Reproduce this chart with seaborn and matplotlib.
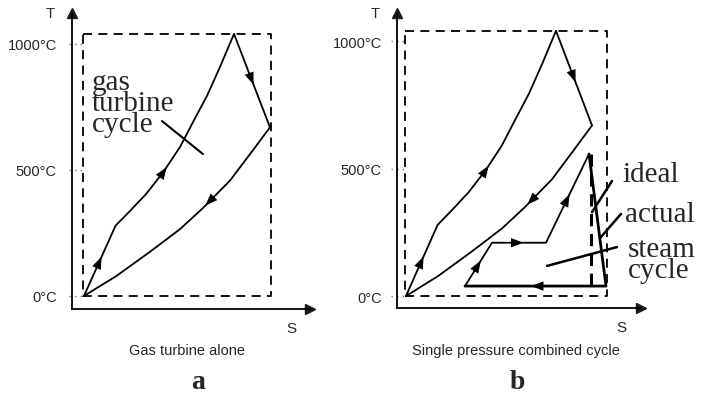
import numpy as np
import pandas as pd
import matplotlib
matplotlib.use("Agg")
import matplotlib.pyplot as plt
import seaborn as sns

# Gas turbine (Brayton) cycle, S in arbitrary units, T in degC
gas_up_s = [0.0, 1.58, 2.3, 3.13, 3.97, 4.8, 5.45, 6.15, 6.8, 7.5]
gas_up_t = [0, 279, 337, 407, 492, 591, 690, 794, 909, 1040]
turb_s = [7.5, 9.3]
turb_t = [1040, 669]
gas_down_s = [9.3, 8.35, 7.3, 5.95, 4.8, 3.28, 1.6, 0.0]
gas_down_t = [669, 568, 458, 349, 265, 174, 78, 0]

# Steam (Rankine) cycle of panel b
steam_s = [2.95, 4.3, 7.0, 9.15]
steam_t = [39, 209, 209, 557]
actual_s = [9.15, 10.0, 2.95]
actual_t = [557, 39, 39]
ideal_s = [9.25, 9.25]
ideal_t = [557, 39]

box_right = {"a": 9.35, "b": 10.05}
t_ticks = [0, 500, 1000]
t_labels = ["0°C", "500°C", "1000°C"]

sns.set_theme(style="white")
plt.rcParams["font.family"] = ["Liberation Sans", "DejaVu Sans"]

fig = plt.figure(figsize=(7.08, 4.06), dpi=100)
ax_a = fig.add_axes([72 / 708, 96 / 406, 238 / 708, 296 / 406])
ax_b = fig.add_axes([397 / 708, 97 / 406, 244 / 708, 295 / 406])
ax_a.set_xlim(-0.6, 11.3)
ax_a.set_ylim(-52, 1123)
ax_b.set_xlim(-0.45, 11.75)
ax_b.set_ylim(-47, 1110)


def line(ax, s, t, lw=1.3, ls="-"):
    df = pd.DataFrame({"S": s, "T": t})
    sns.lineplot(data=df, x="S", y="T", sort=False, estimator=None,
                 color="black", lw=lw, ls=ls, ax=ax)


def arrow(ax, s, t, i, f=0.5, size=9):
    # arrowhead on segment i of a path, pointing along the path
    p0 = ax.transData.transform((s[i], t[i]))
    p1 = ax.transData.transform((s[i + 1], t[i + 1]))
    d = (p1 - p0) / np.hypot(*(p1 - p0))
    mid = p0 + f * (p1 - p0)
    inv = ax.transData.inverted()
    tail = inv.transform(mid - d * size / 2)
    tip = inv.transform(mid + d * size / 2)
    ax.annotate("", xy=tip, xytext=tail,
                arrowprops=dict(arrowstyle="-|>,head_length=0.75,head_width=0.28",
                                color="black", lw=0, mutation_scale=12,
                                shrinkA=0, shrinkB=0))


def frame(ax, name):
    for side in ["top", "right"]:
        ax.spines[side].set_visible(False)
    for side in ["left", "bottom"]:
        ax.spines[side].set_color("black")
        ax.spines[side].set_linewidth(1.3)
    ax.plot(1, 0, ">k", ms=7, transform=ax.transAxes, clip_on=False)
    ax.plot(0, 1, "^k", ms=7, transform=ax.transAxes, clip_on=False)
    ax.set_xticks([])
    ax.set_yticks(t_ticks)
    ax.set_yticklabels(t_labels, fontsize=10.5)
    ax.tick_params(axis="y", length=0, pad=11)
    ax.text(-0.09, 1.0, "T", transform=ax.transAxes, fontsize=10.5,
            ha="center", va="center")
    ax.text(0.92, -0.065, "S", transform=ax.transAxes, fontsize=11,
            ha="center", va="center")
    ax.hlines(t_ticks, -0.75, 0, colors="0.45", linestyles=(0, (1, 3)),
              lw=1.0, clip_on=False)
    # dashed bounding box of the gas cycle
    r = box_right[name]
    top = max(gas_up_t)
    line(ax, [-0.05, r, r, -0.05, -0.05], [top, top, 0, 0, top],
         lw=1.3, ls=(0, (5, 3.5)))
    # gas turbine cycle
    line(ax, gas_up_s, gas_up_t)
    line(ax, turb_s, turb_t)
    line(ax, gas_down_s, gas_down_t)
    arrow(ax, gas_up_s, gas_up_t, 0, 0.5)
    arrow(ax, gas_up_s, gas_up_t, 4, 0.05)
    arrow(ax, turb_s, turb_t, 0, 0.5)
    arrow(ax, gas_down_s, gas_down_t, 2, 0.8)


frame(ax_a, "a")
frame(ax_b, "b")

serif = ["Liberation Serif", "DejaVu Serif"]

# panel a annotation
ax_a.text(0.4, 900, "gas\nturbine\ncycle", fontsize=21, family=serif,
          ha="left", va="top", linespacing=0.74)
line(ax_a, [3.9, 5.95], [694, 563], lw=1.5)

# panel b steam cycle
line(ax_b, steam_s, steam_t)
line(ax_b, actual_s, actual_t, lw=2.0)
line(ax_b, ideal_s, ideal_t, lw=2.2, ls=(0, (4, 2.5)))
for i in range(3):
    arrow(ax_b, steam_s, steam_t, i, 0.5)
arrow(ax_b, actual_s, actual_t, 1, 0.5)

ax_b.text(10.8, 478, "ideal", fontsize=21, family=serif, ha="left", va="center")
ax_b.text(10.95, 322, "actual", fontsize=21, family=serif, ha="left", va="center")
ax_b.text(11.1, 143, "steam\ncycle", fontsize=21, family=serif, ha="left",
          va="center", linespacing=0.74)
line(ax_b, [10.3, 9.3], [451, 329], lw=1.8)
line(ax_b, [10.75, 9.7], [322, 227], lw=1.8)
line(ax_b, [10.55, 7.05], [192, 118], lw=1.8)
for ax in (ax_a, ax_b):
    ax.set_xlabel("")
    ax.set_ylabel("")

fig.text(187 / 708, 1 - 351 / 406, "Gas turbine alone", fontsize=10.5,
         ha="center", va="center")
fig.text(516 / 708, 1 - 351 / 406, "Single pressure combined cycle",
         fontsize=10.5, ha="center", va="center")
fig.text(198 / 708, 1 - 383 / 406, "a", fontsize=20, family=serif,
         weight="bold", ha="center", va="center")
fig.text(517 / 708, 1 - 383 / 406, "b", fontsize=20, family=serif,
         weight="bold", ha="center", va="center")

fig.savefig("out.png", dpi=100, facecolor="white")
